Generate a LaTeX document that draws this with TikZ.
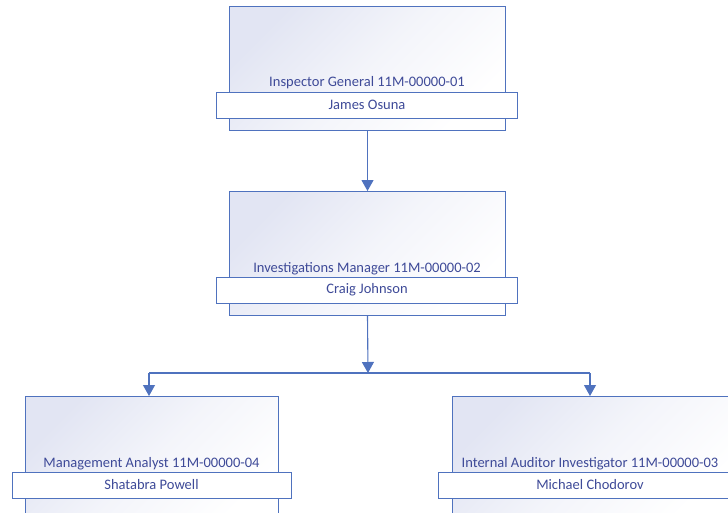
\documentclass[tikz,border=0pt]{standalone}
\usepackage{fontspec}
\setmainfont{Carlito}
\usetikzlibrary{arrows.meta}
\definecolor{boxline}{RGB}{79,114,190}
\definecolor{boxfill}{RGB}{226,229,243}
\definecolor{txt}{RGB}{62,74,152}
\tikzset{
  post/.style={draw=boxline, line width=1pt, left color=boxfill, right color=white, middle color=white!60!boxfill, shading angle=45, minimum width=276pt, minimum height=124pt, inner sep=0pt},
  band/.style={draw=boxline, line width=1pt, fill=white, minimum width=301pt, minimum height=26pt, inner sep=0pt, text=txt, font=\fontsize{14.5}{16}\selectfont},
  title/.style={text=txt, font=\fontsize{14.5}{16}\selectfont, inner sep=0pt},
  conn/.style={draw=boxline, line width=1.1pt},
  arr/.style={conn, -{Triangle[width=12pt,length=11pt]}}
}
\begin{document}
\begin{tikzpicture}[x=1pt,y=-1pt]
\clip (0,0) rectangle (728,512);
% Inspector General
\node[post, anchor=north west] (ig) at (229,6) {};
\node[title] (ig-title) at (367,83) {Inspector General 11M-00000-01};
\node[band] (ig-name) at (367,105) {James Osuna};
% Investigations Manager
\node[post, anchor=north west] (im) at (229,191) {};
\node[title] (im-title) at (367,269) {Investigations Manager 11M-00000-02};
\node[band] (im-name) at (367,290) {Craig Johnson};
% Management Analyst
\node[post, anchor=north west, minimum width=253pt] (ma) at (25,396) {};
\node[title] (ma-title) at (151.5,464) {Management Analyst 11M-00000-04};
\node[band, minimum width=279pt] (ma-name) at (151.5,485) {Shatabra Powell};
% Internal Auditor Investigator
\node[post, anchor=north west, minimum width=280pt] (ia) at (452,396) {};
\node[title] (ia-title) at (590,464) {Internal Auditor Investigator 11M-00000-03};
\node[band, minimum width=304pt] (ia-name) at (590,485) {Michael Chodorov};
% Connectors
\coordinate (split) at (368,373);
\draw[arr] (ig.south) -- (im.north);
\draw[arr] (im.south) -- (split);
\draw[conn] ([xshift=-3pt]ma.north |- split) -- (ia-name.north |- split);
\draw[arr] ([xshift=-3pt]ma.north |- split) -- ([xshift=-3pt]ma.north);
\draw[arr] (ia-name.north |- split) -- (ia-name.north |- ia.north);
\end{tikzpicture}
\end{document}
